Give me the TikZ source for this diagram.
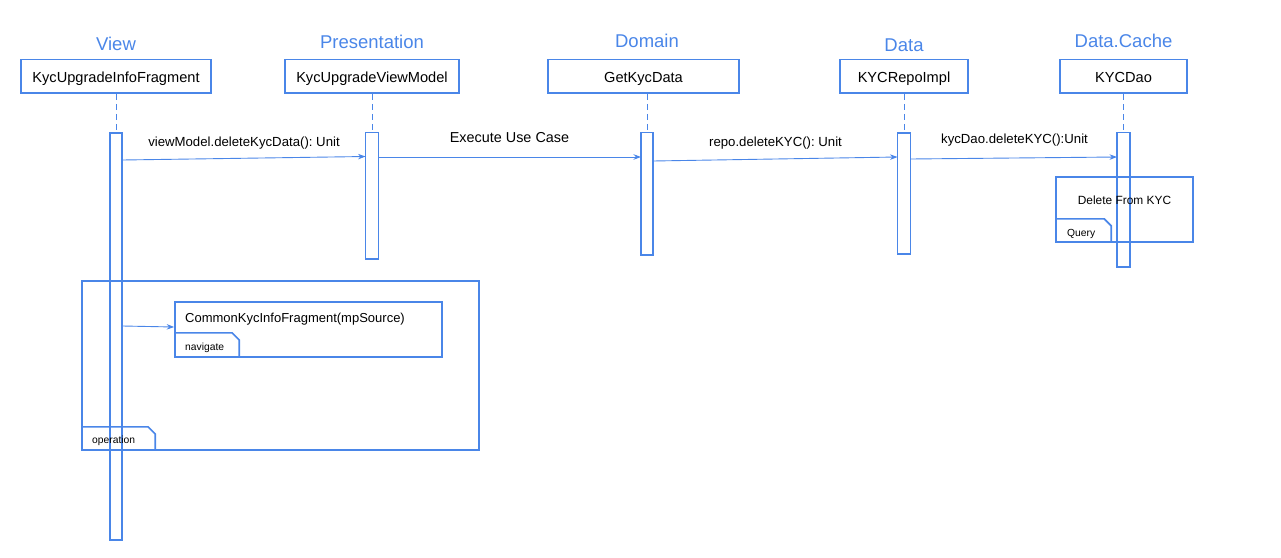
\documentclass[tikz,border=0pt]{standalone}
\usepackage{fontspec}
\setmainfont{Liberation Sans}
\usetikzlibrary{arrows.meta,calc}
\definecolor{gblue}{HTML}{4A86E8}
\frenchspacing
\begin{document}
\begin{tikzpicture}[x=1pt,y=-1pt,
  layer/.style={text=gblue,font=\fontsize{18.5}{20}\selectfont,anchor=base,inner sep=0},
  head/.style={draw=gblue,line width=1.7pt,minimum height=33.5pt,inner sep=0},
  headtxt/.style={font=\fontsize{14.6}{16}\selectfont,anchor=base,inner sep=0},
  bar/.style={draw=gblue,line width=1.7pt,inner sep=0},
  life/.style={draw=gblue,line width=0.9pt,dash pattern=on 6pt off 4pt},
  msg/.style={draw=gblue,line width=0.9pt,-{Stealth[length=7.5pt,width=5.5pt]}},
  lbl/.style={font=\fontsize{13.2}{15}\selectfont,anchor=base,inner sep=0},
  frame/.style={draw=gblue,line width=1.7pt,inner sep=0},
  tab/.style={draw=gblue,line width=1.7pt},
  small/.style={font=\fontsize{10.3}{12}\selectfont,anchor=base west,inner sep=0}]
\useasboundingbox (0,0) rectangle (1281,557);
% layer titles
\node[layer] (tv) at (116,50) {View};
\node[layer] (tp) at (372,48) {Presentation};
\node[layer] (td) at (647,47) {Domain};
\node[layer] (tdata) at (904,51) {Data};
\node[layer] (tc) at (1123.5,47) {Data.Cache};
% head boxes
\node[head,minimum width=190pt] (hv) at (116,76.3) {};
\node[head,minimum width=174pt] (hp) at (372,76.3) {};
\node[head,minimum width=191pt] (hd) at (643.5,76.3) {};
\node[head,minimum width=128pt] (hdata) at (904,76.3) {};
\node[head,minimum width=127pt] (hc) at (1123.5,76.3) {};
\node[headtxt] (hvt) at (116,82.5) {KycUpgradeInfoFragment};
\node[headtxt] (hpt) at (372,82.5) {KycUpgradeViewModel};
\node[headtxt] (hdt) at (643.5,82.5) {GetKycData};
\node[headtxt] (hdatat) at (904,82.5) {KYCRepoImpl};
\node[headtxt] (hct) at (1123.5,82.5) {KYCDao};
% activation bars
\node[bar,minimum width=12.5pt,minimum height=407pt] (bv) at (116,336.5) {};
\node[bar,minimum width=13pt,minimum height=126.5pt] (bp) at (372,195.75) {};
\node[bar,minimum width=12pt,minimum height=122.5pt] (bd) at (647,193.75) {};
\node[bar,minimum width=13pt,minimum height=121pt] (bdata) at (904,193.5) {};
\node[bar,minimum width=13pt,minimum height=134.5pt] (bc) at (1123.5,199.75) {};
% lifelines
\draw[life] (bv.north |- hv.south) -- (bv.north);
\draw[life] (bp.north |- hp.south) -- (bp.north);
\draw[life] (bd.north |- hd.south) -- (bd.north);
\draw[life] (bdata.north |- hdata.south) -- (bdata.north);
\draw[life] (bc.north |- hc.south) -- (bc.north);
% messages
\coordinate (m1s) at (122.5,160);
\coordinate (m1e) at (365.5,156.5);
\coordinate (m2s) at (378.5,157);
\coordinate (m2e) at (641,157);
\coordinate (m3s) at (653,161);
\coordinate (m3e) at (897.5,157);
\coordinate (m4s) at (910.5,159);
\coordinate (m4e) at (1117,157);
\draw[msg] (m1s) -- (m1e);
\draw[msg] (m2s) -- (m2e);
\draw[msg] (m3s) -- (m3e);
\draw[msg] (m4s) -- (m4e);
\node[lbl] (l1) at (244,146) {viewModel.deleteKycData(): Unit};
\node[lbl,font=\fontsize{14.4}{16}\selectfont] (l2) at (509.5,142) {Execute Use Case};
\node[lbl] (l3) at (775.5,146) {repo.deleteKYC(): Unit};
\node[lbl] (l4) at (1014.5,143) {kycDao.deleteKYC():Unit};
% Query frame
\node[frame,minimum width=137pt,minimum height=65pt] (fq) at (1124.5,209.5) {};
\draw[tab] ($(fq.south west)+(1,-24)$) -- ($(fq.south west)+(49,-24)$) -- ($(fq.south west)+(56,-17)$) -- ($(fq.south west)+(56,0)$);
\node[lbl,font=\fontsize{11.9}{14}\selectfont] (fqt) at (1124.5,204) {Delete From KYC};
\node[small] (fqq) at (1067,236) {Query};
% operation frame
\node[frame,minimum width=397pt,minimum height=169pt] (fop) at (280.5,365.5) {};
\draw[tab] ($(fop.south west)+(0,-24)$) -- ($(fop.south west)+(67,-24)$) -- ($(fop.south west)+(74,-17)$) -- ($(fop.south west)+(74,0)$);
\node[small] (fopt) at (92,443) {operation};
% navigate frame
\node[frame,minimum width=267pt,minimum height=55pt] (fnav) at (308.5,329.5) {};
\draw[tab] ($(fnav.south west)+(0,-25)$) -- ($(fnav.south west)+(58,-25)$) -- ($(fnav.south west)+(65,-18)$) -- ($(fnav.south west)+(65,0)$);
\node[lbl,anchor=base west,font=\fontsize{13}{15}\selectfont] (fnavt) at (185,322) {CommonKycInfoFragment(mpSource)};
\node[small] (fnavn) at (185,350) {navigate};
\coordinate (m5s) at (122.5,326);
\draw[msg] (m5s) -- (fnav.west |- 0,327);
\end{tikzpicture}
\end{document}
